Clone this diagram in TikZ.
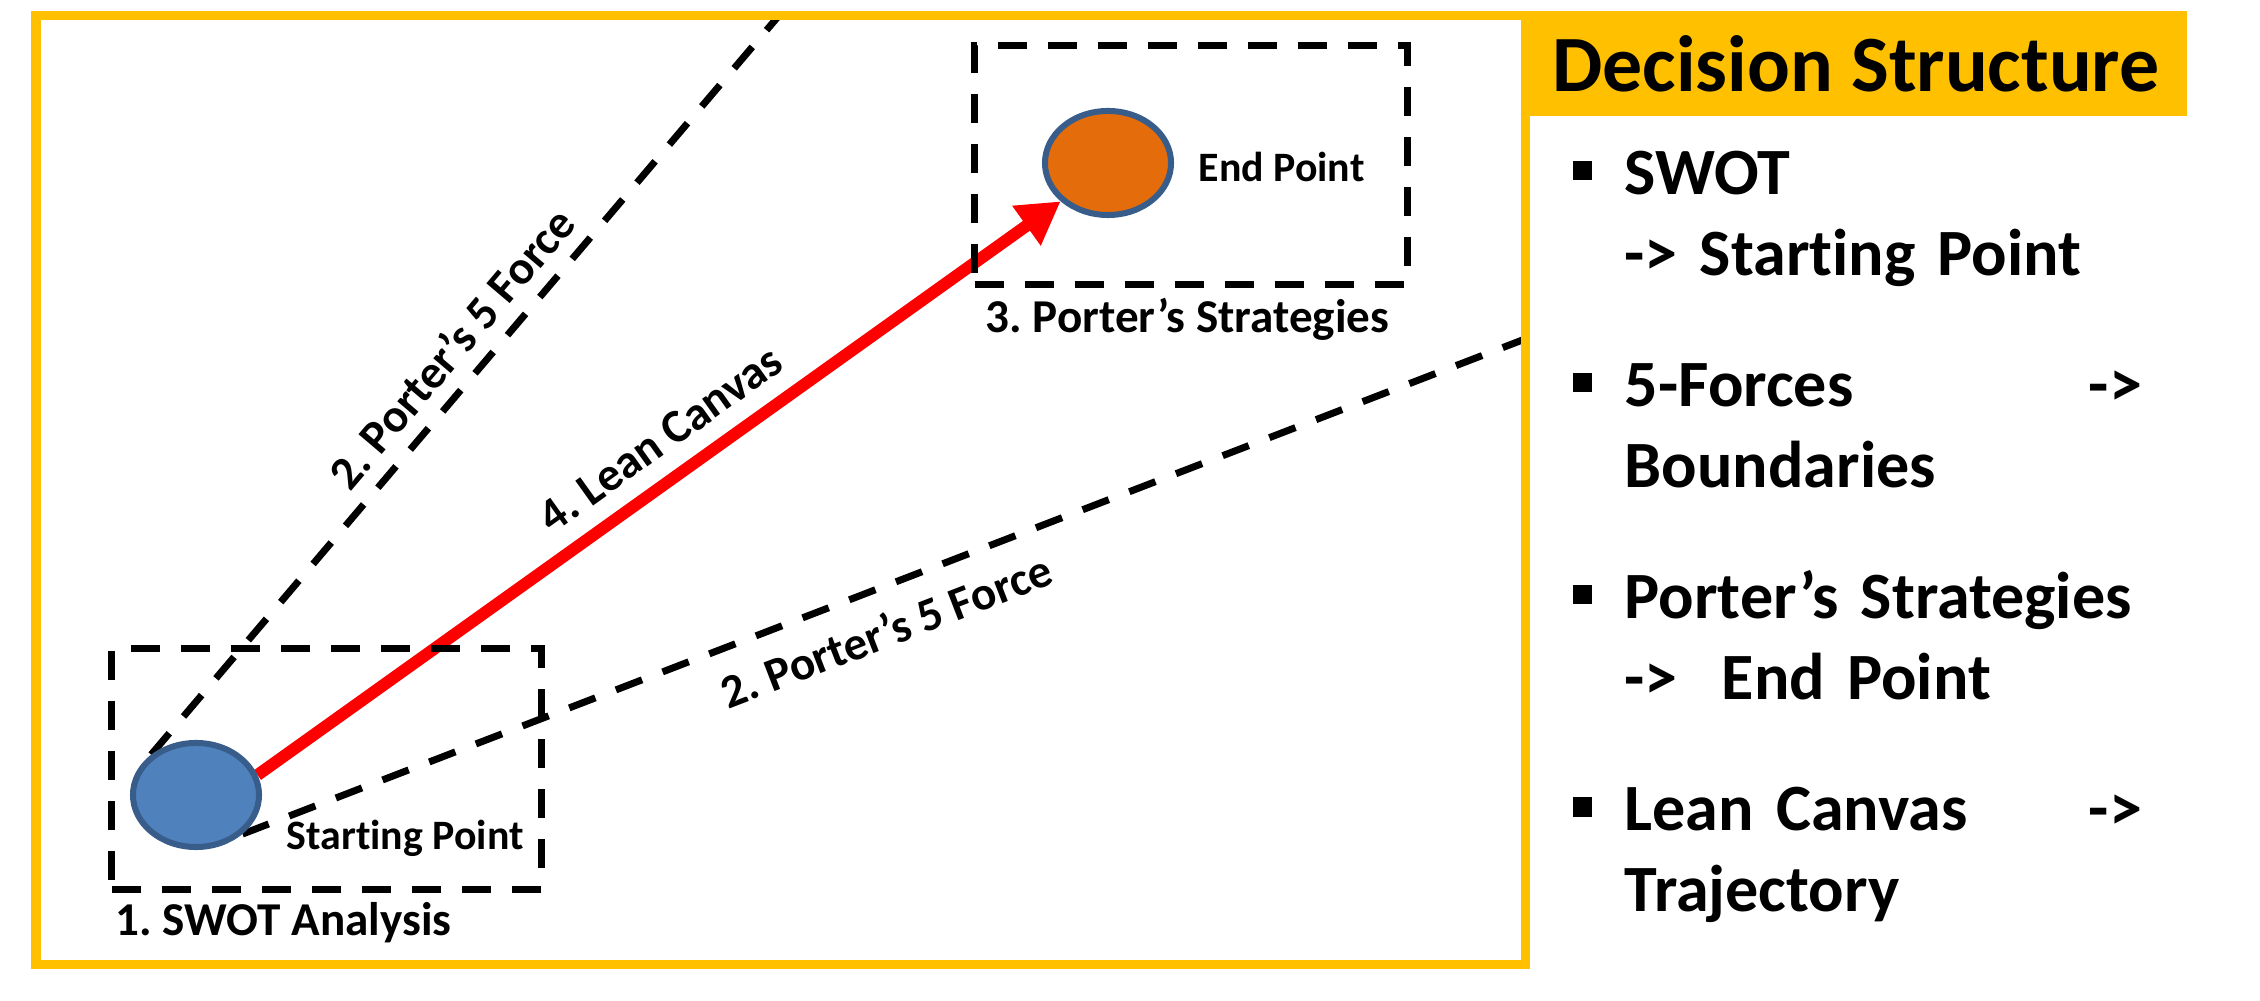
\documentclass[tikz,border=0pt]{standalone}
\usepackage{fontspec}
\setmainfont{Carlito}[Ligatures={NoCommon}]
\usetikzlibrary{arrows.meta, shapes.geometric, backgrounds}
\definecolor{frameyellow}{HTML}{FFC000}
\definecolor{spotblue}{HTML}{4F81BD}
\definecolor{spotorange}{HTML}{E46C0A}
\definecolor{spotedge}{HTML}{385D8A}
\tikzset{
  zone/.style={draw, line width=0.07cm, dash pattern=on 0.29cm off 0.21cm},
  force/.style={line width=0.07cm, dash pattern=on 0.28cm off 0.22cm},
  lean/.style={red, line width=0.12cm, -{Triangle[length=0.42cm, width=0.46cm]}},
  spot/.style={ellipse, draw=spotedge, line width=0.06cm, fill=#1,
    minimum width=1.26cm, minimum height=1.04cm, inner sep=0pt},
  lbl/.style={text=black, font=\bfseries\fontsize{13.4pt}{16pt}\selectfont, inner sep=0pt},
  ptlbl/.style={font=\bfseries\fontsize{11.9pt}{14pt}\selectfont, inner sep=0pt},
  header/.style={fill=frameyellow, minimum width=6.62cm, minimum height=1.045cm,
    inner sep=0pt, font=\bfseries\fontsize{22.7pt}{27pt}\selectfont},
  item/.style={text width=5.17cm, align=left, inner sep=0pt,
    font=\bfseries\fontsize{18.8pt}{23pt}\selectfont},
  sqbullet/.style={fill=black, minimum size=0.19cm, inner sep=0pt},
}
\frenchspacing

\begin{document}
\begin{tikzpicture}[x=0.01cm, y=-0.01cm]
  \useasboundingbox (0,0) rectangle (2260,1001);
  % frame and header
  \draw[frameyellow, line width=0.09cm] (36,15.5) rectangle (1525,965);
  \node[header] (hdr) at (1856,63.75) {Decision Structure};

  % the two zones
  \node[zone, minimum width=4.29cm, minimum height=2.40cm] (swotbox) at (326.5,769) {};
  \node[zone, minimum width=4.32cm, minimum height=2.38cm] (stratbox) at (1191,165) {};
  \node[lbl, anchor=base west] (swotlbl) at (115,936) {1. SWOT Analysis};
  \node[lbl, anchor=base west] (stratlbl) at (985,333) {3. Porter’s Strategies};

  % start and end points
  \node[spot=spotblue] (start) at (196,795) {};
  \node[spot=spotorange] (finish) at (1108,163) {};
  \node[ptlbl, anchor=base west] (startlbl) at (286,850) {Starting Point};
  \node[ptlbl, anchor=base west] (finishlbl) at (1198,182) {End Point};

  \coordinate (topend) at (779,15.5);
  \coordinate (rightend) at (1525,339);
  \begin{scope}[on background layer]
    \draw[force] (start.138) -- node[lbl, sloped, above=4pt, pos=0.52] (forceup) {2. Porter’s 5 Force} (topend);
    \draw[force] (start.320) -- node[lbl, sloped, below=6pt, pos=0.49] (forcedown) {2. Porter’s 5 Force} (rightend);
    \draw[lean] (start.18) -- node[lbl, sloped, above=5pt, pos=0.53] (leanlbl) {4. Lean Canvas} (finish.219);
  \end{scope}

  % decision structure list
  \node[item, anchor=base west] (swotitem) at (1624,195) {SWOT\\-> Starting Point};
  \node[item, anchor=base west] (forceitem) at (1624,407) {5-Forces\hfill->\\Boundaries};
  \node[item, anchor=base west] (stratitem) at (1624,619) {Porter’s Strategies\\->~ End Point};
  \node[item, anchor=base west] (leanitem) at (1624,831) {Lean Canvas\hfill->\\Trajectory};
  \node[sqbullet] at ([shift={(-42,-24)}]swotitem.base west) {};
  \node[sqbullet] at ([shift={(-42,-24)}]forceitem.base west) {};
  \node[sqbullet] at ([shift={(-42,-24)}]stratitem.base west) {};
  \node[sqbullet] at ([shift={(-42,-24)}]leanitem.base west) {};
\end{tikzpicture}
\end{document}
